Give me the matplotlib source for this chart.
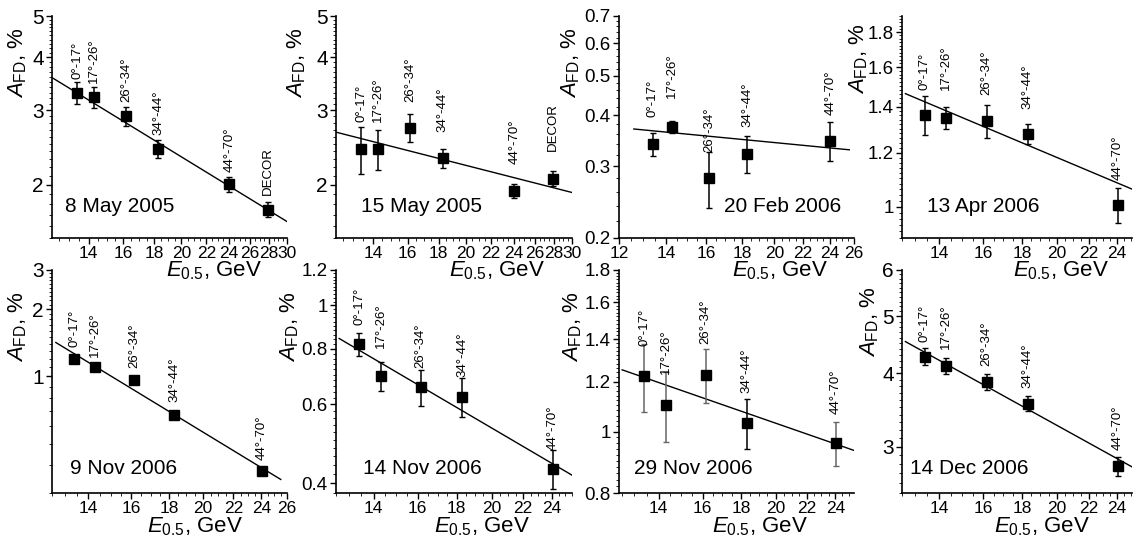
import matplotlib
matplotlib.use("Agg")
import matplotlib.pyplot as plt
from matplotlib.ticker import FixedLocator, MultipleLocator, FormatStrFormatter, NullFormatter

plt.rcParams['font.family'] = ['Liberation Sans', 'DejaVu Sans']
plt.rcParams['mathtext.fontset'] = 'custom'
plt.rcParams['mathtext.rm'] = 'Liberation Sans'
plt.rcParams['mathtext.it'] = 'Liberation Sans:italic'

# ---------------- data ----------------
energy_bins = [13.4, 14.3, 16.15, 18.3, 24.05]   # E_0.5, GeV
energy_decor = 27.9
zenith_labels = ['0°-17°', '17°-26°', '26°-34°', '34°-44°', '44°-70°']
decor_label = 'DECOR'

dates = ['8 May 2005', '15 May 2005', '20 Feb 2006', '13 Apr 2006',
         '9 Nov 2006', '14 Nov 2006', '29 Nov 2006', '14 Dec 2006']

a_0508 = [3.30, 3.22, 2.91, 2.43, 2.01, 1.75]
e_0508 = [0.19, 0.19, 0.15, 0.12, 0.08, 0.07]
a_0515 = [2.43, 2.43, 2.73, 2.31, 1.94, 2.07]
e_0515 = [0.31, 0.26, 0.21, 0.12, 0.075, 0.085]
a_0220 = [0.340, 0.374, 0.281, 0.322, 0.346]
e_0220 = [0.022, 0.012, 0.044, 0.034, 0.038]
a_0413 = [1.363, 1.349, 1.334, 1.276, 1.006]
e_0413 = [0.09, 0.05, 0.075, 0.043, 0.059]
a_1109 = [1.195, 1.105, 0.966, 0.672, 0.375]
e_1109 = [0.02, 0.02, 0.02, 0.015, 0.01]
a_1114 = [0.819, 0.694, 0.656, 0.625, 0.431]
e_1114 = [0.048, 0.052, 0.062, 0.062, 0.044]
a_1129 = [1.224, 1.102, 1.229, 1.033, 0.959]
e_1129 = [0.15, 0.14, 0.12, 0.094, 0.075]
a_1214 = [4.27, 4.12, 3.87, 3.55, 2.78]
e_1214 = [0.145, 0.13, 0.125, 0.105, 0.105]

# fitted power-law lines (end points)
fit_e_0508, fit_a_0508 = [12.2, 30.0], [3.57, 1.64]
fit_e_0515, fit_a_0515 = [12.2, 30.0], [2.66, 1.92]
fit_e_0220, fit_a_0220 = [12.6, 25.6], [0.370, 0.329]
fit_e_0413, fit_a_0413 = [12.63, 25.1], [1.463, 1.061]
fit_e_1109, fit_a_1109 = [12.65, 25.5], [1.419, 0.345]
fit_e_1114, fit_a_1114 = [12.62, 25.6], [0.843, 0.415]
fit_e_1129, fit_a_1129 = [12.52, 25.4], [1.252, 0.934]
fit_e_1214, fit_a_1214 = [12.63, 25.1], [4.53, 2.77]

# ---------------- layout ----------------
label_y = [
    [3.55, 3.47, 3.14, 2.62, 2.15, 1.89],
    [2.82, 2.82, 3.14, 2.67, 2.24, 2.40],
    [0.396, 0.441, 0.325, 0.374, 0.400],
    [1.48, 1.483, 1.455, 1.39, 1.094],
    [1.348, 1.216, 1.09, 0.765, 0.42],
    [0.906, 0.801, 0.725, 0.692, 0.475],
    [1.364, 1.232, 1.373, 1.152, 1.066],
    [4.53, 4.40, 4.11, 3.77, 2.96],
]

W, H = 1133, 545
# (left, right, top, bottom) in pixels
boxes = [(52, 287, 16, 238), (336, 572, 16, 238), (619, 854, 16, 238), (902, 1132, 16, 238),
         (52, 287, 270, 493), (336, 572, 270, 493), (619, 854, 270, 493), (902, 1132, 270, 493)]
xlims = [(12.16, 30), (12.16, 30), (12.0, 26.0), (12.5, 25.1),
         (12.5, 26.0), (12.5, 25.5), (12.4, 25.4), (12.5, 25.1)]
ylims = [(1.5, 5), (1.5, 5), (0.2, 0.7), (0.9, 1.9),
         (0.3, 3), (0.38, 1.2), (0.8, 1.8), (2.5, 6)]
xmajor = [list(range(14, 31, 2)), list(range(14, 31, 2)), list(range(12, 27, 2)), list(range(14, 25, 2)),
          list(range(14, 27, 2)), list(range(14, 25, 2)), list(range(14, 25, 2)), list(range(14, 25, 2))]
ymajor = [[2, 3, 4, 5], [2, 3, 4, 5], [0.2, 0.3, 0.4, 0.5, 0.6, 0.7], [1.0, 1.2, 1.4, 1.6, 1.8],
          [1, 2, 3], [0.4, 0.6, 0.8, 1.0, 1.2], [0.8, 1.0, 1.2, 1.4, 1.6, 1.8], [3, 4, 5, 6]]
yminor = [0.1, 0.1, 0.02, 0.02, 0.1, 0.02, 0.02, 0.1]
ytick_fs = [15, 15, 13.5, 13.5, 15, 13.5, 13.5, 15]
date_pos = [(0.055, 0.14), (0.106, 0.14), (0.447, 0.14), (0.108, 0.14),
            (0.077, 0.112), (0.114, 0.112), (0.064, 0.108), (0.035, 0.108)]
ylab_x = [-0.145, -0.165, -0.205, -0.19, -0.145, -0.195, -0.195, -0.14]
ylab_y = [0.79, 0.79, 0.79, 0.81, 0.745, 0.745, 0.745, 0.77]
xlab_x = [0.69, 0.68, 0.685, 0.69, 0.61, 0.62, 0.60, 0.61]
xlab_base = [-0.172, -0.172, -0.172, -0.172, -0.175, -0.175, -0.175, -0.175]

ecol_1129 = ['#666666', '#666666', '#666666', 'black', '#666666']

values = [a_0508, a_0515, a_0220, a_0413, a_1109, a_1114, a_1129, a_1214]
errors = [e_0508, e_0515, e_0220, e_0413, e_1109, e_1114, e_1129, e_1214]
fits = [(fit_e_0508, fit_a_0508), (fit_e_0515, fit_a_0515), (fit_e_0220, fit_a_0220),
        (fit_e_0413, fit_a_0413), (fit_e_1109, fit_a_1109), (fit_e_1114, fit_a_1114),
        (fit_e_1129, fit_a_1129), (fit_e_1214, fit_a_1214)]

fig = plt.figure(figsize=(W / 100, H / 100), dpi=100)
fig.patch.set_facecolor('white')

for i in range(8):
    l, r, t, b = boxes[i]
    ax = fig.add_axes([l / W, 1 - b / H, (r - l) / W, (b - t) / H])
    ax.patch.set_visible(False)
    ax.set_xscale('log')
    ax.set_yscale('log')
    vals = values[i]
    errs = errors[i]
    xs = energy_bins + ([energy_decor] if len(vals) == 6 else [])
    labs = zenith_labels + ([decor_label] if len(vals) == 6 else [])
    fe, fa = fits[i]
    ax.plot(fe, fa, color='black', lw=1.0, zorder=2)
    for j, (x, y, e) in enumerate(zip(xs, vals, errs)):
        ec = ecol_1129[j] if i == 6 else 'black'
        ax.errorbar([x], [y], yerr=[e], fmt='none', ecolor=ec, elinewidth=1.1,
                    capsize=2.5, capthick=1.0, zorder=3)
        ax.plot([x], [y], 's', color='black', ms=7, zorder=4)
        ax.text(x, label_y[i][j], labs[j], rotation=90, ha='center', va='bottom',
                fontsize=9.5, zorder=5)
    ax.set_xlim(*xlims[i])
    ax.set_ylim(*ylims[i])
    ax.xaxis.set_major_locator(FixedLocator(xmajor[i]))
    ax.xaxis.set_major_formatter(FormatStrFormatter('%g'))
    ax.xaxis.set_minor_locator(MultipleLocator(0.5))
    ax.xaxis.set_minor_formatter(NullFormatter())
    ax.yaxis.set_major_locator(FixedLocator(ymajor[i]))
    ax.yaxis.set_major_formatter(FormatStrFormatter('%g'))
    ax.yaxis.set_minor_locator(MultipleLocator(yminor[i]))
    ax.yaxis.set_minor_formatter(NullFormatter())
    for s in ['top', 'right']:
        ax.spines[s].set_visible(False)
    for s in ['left', 'bottom']:
        ax.spines[s].set_linewidth(1.2)
    ax.tick_params(axis='both', which='major', direction='out', length=4, width=1.0, pad=2)
    ax.tick_params(axis='both', which='minor', direction='out', length=2, width=0.6)
    ax.tick_params(axis='x', which='major', labelsize=12.5)
    ax.tick_params(axis='y', which='major', labelsize=ytick_fs[i])
    ax.text(date_pos[i][0], date_pos[i][1], dates[i], transform=ax.transAxes,
            fontsize=15, ha='left', va='center')
    ax.text(ylab_x[i], ylab_y[i], r'$\mathit{A}_{\mathrm{FD}}$, %', transform=ax.transAxes,
            rotation=90, ha='center', va='center', fontsize=16)
    ax.text(xlab_x[i], xlab_base[i], r'$\mathit{E}_{0.5}$, GeV', transform=ax.transAxes,
            ha='center', va='baseline', fontsize=16, clip_on=False)

fig.savefig('out.png', dpi=100, facecolor='white')
